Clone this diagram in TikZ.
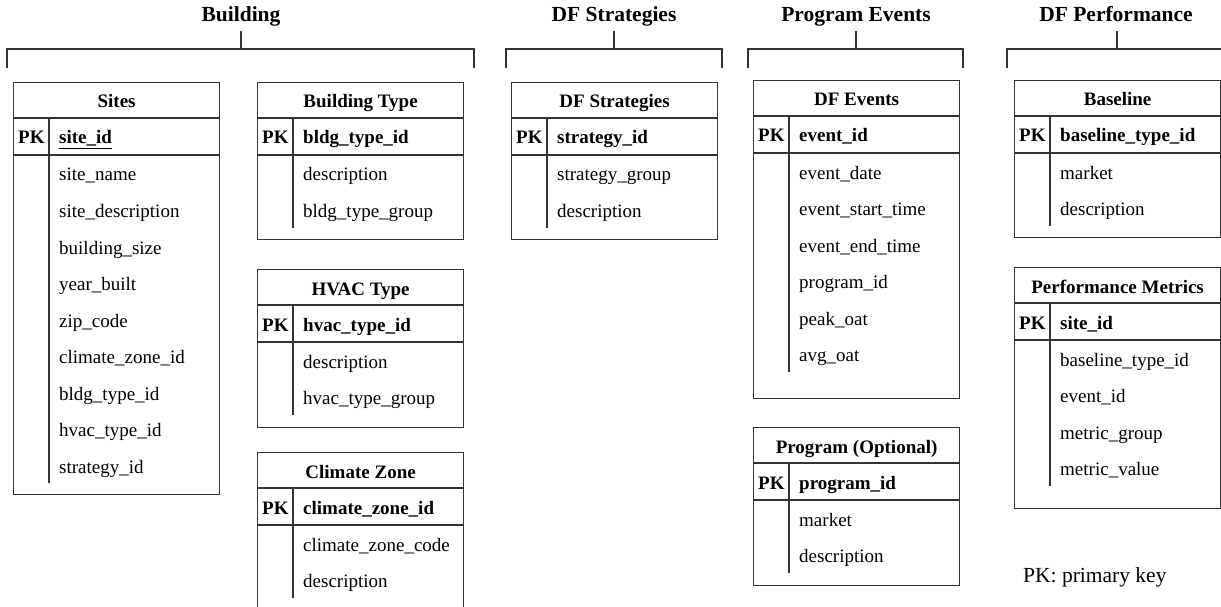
\documentclass[tikz,border=0pt]{standalone}
\usepackage{fontspec}
\setmainfont{Liberation Serif}
\tikzset{
  tbox/.style={draw=black!80, line width=1.2pt, anchor=north west, inner sep=0pt, minimum width=206pt},
  rule/.style={draw=black!80, line width=1.2pt},
  ttitle/.style={font=\fontsize{19}{23}\selectfont\bfseries, inner sep=0pt, text height=18pt, text depth=4pt},
  pkstyle/.style={font=\fontsize{19}{23}\selectfont\bfseries, inner sep=0pt, anchor=west, text height=18pt, text depth=4pt},
  fieldstyle/.style={font=\fontsize{19}{23}\selectfont, inner sep=0pt, anchor=west, text height=18pt, text depth=4pt},
  hdr/.style={font=\fontsize{21.5}{25}\selectfont\bfseries, inner sep=0pt, text height=19pt, text depth=5pt},
  bracket/.style={draw=black!80, line width=1.2pt}
}
\newcommand\ertable[8]{%
  \pgfmathsetmacro\tabh{#4-#3}
  \node[tbox, minimum height=\tabh pt] (#1) at (#2,#3) {};
  \draw[rule] ([yshift=-36pt]#1.north west) -- ([yshift=-36pt]#1.north east);
  \draw[rule] ([yshift=-73pt]#1.north west) -- ([yshift=-73pt]#1.north east);
  \pgfmathsetmacro\vend{-(72.5+36.5*#8)}
  \draw[rule] ([shift={(36pt,-36pt)}]#1.north west) -- ([shift={(36pt,\vend pt)}]#1.north west);
  \node[ttitle] (#1-title) at ([yshift=-19pt]#1.north) {#5};
  \node[pkstyle] (#1-pk) at ([shift={(5pt,-55pt)}]#1.north west) {PK};
  \node[pkstyle] (#1-key) at ([shift={(46pt,-55pt)}]#1.north west) {#6};
  \foreach \f [count=\i from 0] in {#7} {
    \pgfmathsetmacro\yy{-92-36.5*\i}
    \node[fieldstyle] (#1-f\i) at ([shift={(46pt,\yy pt)}]#1.north west) {\f};
  }
}
\begin{document}
\begin{tikzpicture}[x=1pt,y=-1pt]
\useasboundingbox (0,0) rectangle (1221,607);
\clip (0,0) rectangle (1221,607);
% group headers
\node[hdr] (hbuilding) at (241,15) {Building};
\node[hdr] (hstrat) at (614,15) {DF Strategies};
\node[hdr] (hevents) at (856,15) {Program Events};
\node[hdr] (hperf) at (1116,15) {DF Performance};
\draw[bracket] (7,68) -- (7,49) -- (474,49) -- (474,68);
\draw[bracket] (241,49) -- (241,31);
\draw[bracket] (506,68) -- (506,49) -- (722,49) -- (722,68);
\draw[bracket] (614,49) -- (614,31);
\draw[bracket] (748,68) -- (748,49) -- (963,49) -- (963,68);
\draw[bracket] (856,49) -- (856,31);
\draw[bracket] (1007,68) -- (1007,49) -- (1230,49);
\draw[bracket] (1117,49) -- (1117,31);
% tables
\ertable{sites}{13}{82}{494}{Sites}{\underline{site\_id}}{site\_name,site\_description,building\_size,year\_built,zip\_code,climate\_zone\_id,bldg\_type\_id,hvac\_type\_id,strategy\_id}{9}
\ertable{bldgtype}{257}{82}{239}{Building Type}{bldg\_type\_id}{description,bldg\_type\_group}{2}
\ertable{hvac}{257}{269}{427}{HVAC Type}{hvac\_type\_id}{description,hvac\_type\_group}{2}
\ertable{climate}{257}{452}{610}{Climate Zone}{climate\_zone\_id}{climate\_zone\_code,description}{2}
\ertable{strategies}{511}{82}{239}{DF Strategies}{strategy\_id}{strategy\_group,description}{2}
\ertable{events}{753}{80}{398}{DF Events}{event\_id}{event\_date,event\_start\_time,event\_end\_time,program\_id,peak\_oat,avg\_oat}{6}
\ertable{program}{753}{427}{585}{Program (Optional)}{program\_id}{market,description}{2}
\ertable{baseline}{1014}{80}{237}{Baseline}{baseline\_type\_id}{market,description}{2}
\ertable{metrics}{1014}{267}{508}{Performance Metrics}{site\_id}{baseline\_type\_id,event\_id,metric\_group,metric\_value}{4}
\node[font=\fontsize{21.5}{25}\selectfont, inner sep=0pt, anchor=west, text height=19pt, text depth=5pt] (legend) at (1023,575) {PK: primary key};
\end{tikzpicture}
\end{document}
